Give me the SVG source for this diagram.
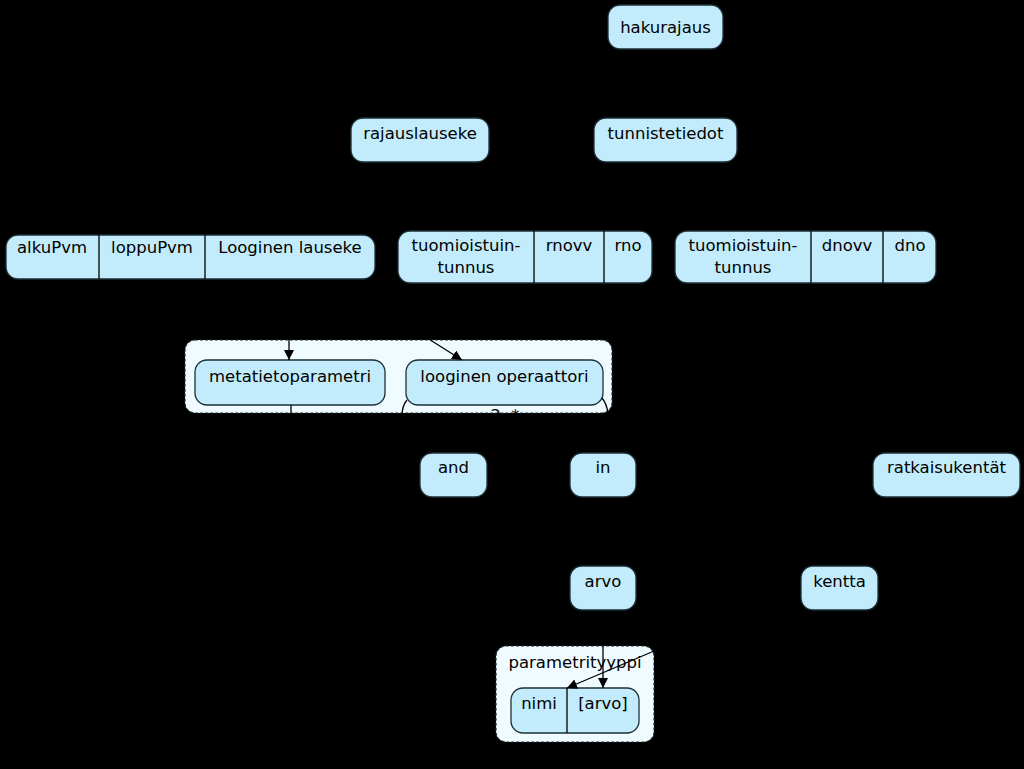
<svg xmlns="http://www.w3.org/2000/svg" width="1024" height="769" viewBox="0 0 1024 769">
<defs>
<style>
.n{fill:#c2ecfb;stroke:#1d3038;stroke-width:1.3}
.c{fill:#effbfe;stroke:#1d3038;stroke-width:1.2;stroke-dasharray:3,2}
.d{stroke:#000;stroke-width:1.3}
.e{fill:none;stroke:#000;stroke-width:1.3}
text{font-family:"DejaVu Sans",Verdana,sans-serif;font-size:16.5px;fill:#000;text-anchor:middle}
</style>
<marker id="ah" viewBox="0 0 10 10" refX="10" refY="5" markerWidth="10" markerHeight="10" markerUnits="userSpaceOnUse" orient="auto">
<path d="M0,0 L10,5 L0,10 z" fill="#000"/>
</marker>
</defs>
<rect width="1024" height="769" fill="#000"/>

<g id="cluster-logic">
<rect class="c" x="185" y="340" width="427" height="73" rx="10"/>
</g>
<g id="cluster-parametrityyppi">
<rect class="c" x="496" y="646" width="158" height="96" rx="10"/>
<text x="575" y="668">parametrityyppi</text>
</g>

<g id="hakurajaus"><rect class="n" x="608" y="5" width="115" height="44" rx="12"/><text x="665.5" y="33">hakurajaus</text></g>
<g id="rajauslauseke"><rect class="n" x="351" y="118" width="138" height="44" rx="12"/><text x="420" y="139">rajauslauseke</text></g>
<g id="tunnistetiedot"><rect class="n" x="594" y="118" width="143" height="44" rx="12"/><text x="665.5" y="139">tunnistetiedot</text></g>

<g id="rajaus-record">
<rect class="n" x="6" y="235" width="369" height="44" rx="12"/>
<line class="d" x1="99" y1="235" x2="99" y2="279"/>
<line class="d" x1="205" y1="235" x2="205" y2="279"/>
<text x="52" y="253">alkuPvm</text>
<text x="152" y="253">loppuPvm</text>
<text x="290" y="253">Looginen lauseke</text>
</g>

<g id="ratkaisu-record">
<rect class="n" x="398" y="231" width="254" height="52" rx="12"/>
<line class="d" x1="534" y1="231" x2="534" y2="283"/>
<line class="d" x1="604" y1="231" x2="604" y2="283"/>
<text x="466" y="251">tuomioistuin-</text>
<text x="466" y="273">tunnus</text>
<text x="569" y="251">rnovv</text>
<text x="628" y="251">rno</text>
</g>

<g id="diaari-record">
<rect class="n" x="675" y="231" width="261" height="52" rx="12"/>
<line class="d" x1="811" y1="231" x2="811" y2="283"/>
<line class="d" x1="883" y1="231" x2="883" y2="283"/>
<text x="743" y="251">tuomioistuin-</text>
<text x="743" y="273">tunnus</text>
<text x="847" y="251">dnovv</text>
<text x="910" y="251">dno</text>
</g>

<g id="metatietoparametri"><rect class="n" x="195" y="360" width="190" height="45" rx="12"/><text x="290" y="382">metatietoparametri</text></g>
<g id="looginen-operaattori"><rect class="n" x="406" y="360" width="197" height="45" rx="12"/><text x="504.5" y="382">looginen operaattori</text></g>

<g id="and"><rect class="n" x="420" y="453" width="67" height="44" rx="12"/><text x="453.5" y="473">and</text></g>
<g id="in"><rect class="n" x="570" y="453" width="66" height="44" rx="12"/><text x="603" y="473">in</text></g>
<g id="ratkaisukentat"><rect class="n" x="873" y="453" width="147" height="44" rx="12"/><text x="946.5" y="473">ratkaisukentät</text></g>
<g id="arvo"><rect class="n" x="570" y="566" width="66" height="44" rx="12"/><text x="603" y="587">arvo</text></g>
<g id="kentta"><rect class="n" x="801" y="566" width="77" height="44" rx="12"/><text x="839.5" y="587">kentta</text></g>

<g id="parametri-record">
<rect class="n" x="511" y="688" width="128" height="45" rx="12"/>
<line class="d" x1="567" y1="688" x2="567" y2="733"/>
<text x="539" y="709">nimi</text>
<text x="603" y="709">[arvo]</text>
</g>

<g id="connectors">
<line class="e" x1="640" y1="52" x2="445" y2="114" marker-end="url(#ah)"/>
<line class="e" x1="665" y1="52" x2="665" y2="114" marker-end="url(#ah)"/>
<line class="e" x1="420" y1="166" x2="305" y2="231" marker-end="url(#ah)"/>
<line class="e" x1="650" y1="166" x2="540" y2="227" marker-end="url(#ah)"/>
<line class="e" x1="690" y1="166" x2="770" y2="227" marker-end="url(#ah)"/>
<line class="e" x1="289" y1="283" x2="289" y2="360" marker-end="url(#ah)"/>
<line class="e" x1="340" y1="283" x2="462" y2="360" marker-end="url(#ah)"/>
<line class="e" x1="291" y1="405" x2="291" y2="430"/>
<path class="e" d="M407,400 Q402,406 402,416"/>
<path class="e" d="M602,398 Q607,404 608,414"/>
<text x="505" y="421">2..*</text>
<line class="e" x1="480" y1="416" x2="458" y2="449" marker-end="url(#ah)"/>
<line class="e" x1="560" y1="416" x2="598" y2="449" marker-end="url(#ah)"/>
<line class="e" x1="946" y1="500" x2="850" y2="562" marker-end="url(#ah)"/>
<line class="e" x1="603" y1="614" x2="603" y2="688" marker-end="url(#ah)"/>
<line class="e" x1="760" y1="606" x2="567" y2="688" marker-end="url(#ah)"/>
</g>
</svg>
